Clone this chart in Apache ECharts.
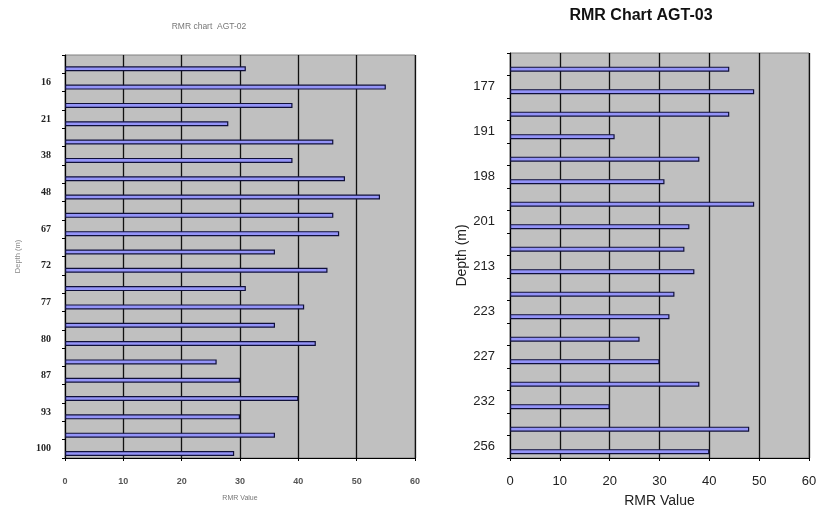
<!DOCTYPE html>
<html>
<head>
<meta charset="utf-8">
<script src="https://cdn.jsdelivr.net/npm/echarts@6/dist/echarts.min.js"></script>
<style>
html,body{margin:0;padding:0;background:#fff;}
#chart{width:816px;height:509px;}
</style>
</head>
<body>
<div id="chart"></div>
<script>
// AGT-02 (left chart), listed top to bottom
const agt02Depths = ['', '16', '', '21', '', '38', '', '48', '', '67', '', '72', '', '77', '', '80', '', '87', '', '93', '', '100'];
const agt02Rmr = [31, 55, 39, 28, 46, 39, 48, 54, 46, 47, 36, 45, 31, 41, 36, 43, 26, 30, 40, 30, 36, 29];
// AGT-03 (right chart), listed top to bottom
const agt03Depths = ['', '177', '', '191', '', '198', '', '201', '', '213', '', '223', '', '227', '', '232', '', '256'];
const agt03Rmr = [44, 49, 44, 21, 38, 31, 49, 36, 35, 37, 33, 32, 26, 30, 38, 20, 48, 40];
// value axis
const rmrMin = 0, rmrMax = 60, rmrStep = 10;
const titles = ['RMR chart  AGT-02', 'RMR Chart AGT-03'];
const xNames = ['RMR Value', 'RMR Value'];
const yNames = ['Depth (m)', 'Depth (m)'];

const chart = echarts.init(document.getElementById('chart'), null, {renderer: 'canvas'});

const barStyle = {color: '#9494f8', borderColor: '#10103a', borderWidth: 1.2};

function xAxisFor(i, small) {
  return {
    type: 'value', gridIndex: i, min: rmrMin, max: rmrMax, interval: rmrStep,
    name: xNames[i], nameLocation: 'middle', nameGap: small ? 37 : 36,
    nameTextStyle: small ? {fontSize: 7, color: '#777', fontFamily: 'Liberation Sans'}
                         : {fontSize: 14, color: '#222', fontFamily: 'Liberation Sans'},
    axisLine: {show: true, lineStyle: {color: '#000', width: 1}},
    axisTick: {show: true, length: 3, lineStyle: {color: '#000'}},
    axisLabel: small ? {fontSize: 9, fontWeight: 'bold', color: '#555', margin: 19, fontFamily: 'Liberation Sans'}
                     : {fontSize: 13, color: '#222', margin: 17, fontFamily: 'Liberation Sans'},
    splitLine: {show: true, lineStyle: {color: '#111', width: 1.3}}
  };
}
function yAxisFor(i, cats, small) {
  return {
    type: 'category', gridIndex: i, data: cats, inverse: true,
    name: yNames[i], nameLocation: 'middle', nameGap: small ? 43 : 40, nameRotate: 90,
    nameTextStyle: small ? {fontSize: 7.5, color: '#888', fontFamily: 'Liberation Sans'}
                         : {fontSize: 14, color: '#222', fontFamily: 'Liberation Sans'},
    axisLine: {show: true, lineStyle: {color: '#000', width: 1}},
    axisTick: {show: true, length: 3, interval: 0, alignWithLabel: false, lineStyle: {color: '#000'}},
    axisLabel: small ? {interval: 0, fontSize: 10, fontWeight: 'bold', color: '#222', margin: 14, fontFamily: 'Liberation Serif'}
                     : {interval: 0, fontSize: 13, color: '#222', margin: 15, fontFamily: 'Liberation Sans'},
    splitLine: {show: false}
  };
}

chart.setOption({
  animation: false,
  backgroundColor: '#fff',
  title: [
    {text: titles[0], left: 204, top: 17, textAlign: 'center',
     textStyle: {fontSize: 8.5, fontWeight: 'normal', color: '#777', fontFamily: 'Liberation Sans'}},
    {text: titles[1], left: 636, top: 3, textAlign: 'center',
     textStyle: {fontSize: 16, fontWeight: 'bold', color: '#111', fontFamily: 'Liberation Sans'}}
  ],
  grid: [
    {left: 65, right: 401, top: 55, bottom: 51, show: true, backgroundColor: '#c0c0c0', borderColor: '#808080', borderWidth: 1, containLabel: false, outerBoundsMode: 'none'},
    {left: 510, right: 7, top: 53, bottom: 51, show: true, backgroundColor: '#c0c0c0', borderColor: '#808080', borderWidth: 1, containLabel: false, outerBoundsMode: 'none'}
  ],
  xAxis: [xAxisFor(0, true), xAxisFor(1, false)],
  yAxis: [yAxisFor(0, agt02Depths, true), yAxisFor(1, agt03Depths, false)],
  series: [
    {type: 'bar', xAxisIndex: 0, yAxisIndex: 0, data: [], barWidth: 5, silent: true},
    {type: 'bar', xAxisIndex: 0, yAxisIndex: 0, data: agt02Rmr, barWidth: 5, barGap: '85%', itemStyle: barStyle},
    {type: 'bar', xAxisIndex: 1, yAxisIndex: 1, data: [], barWidth: 5, silent: true},
    {type: 'bar', xAxisIndex: 1, yAxisIndex: 1, data: agt03Rmr, barWidth: 5, barGap: '95%', itemStyle: barStyle}
  ]
});
</script>
</body>
</html>
